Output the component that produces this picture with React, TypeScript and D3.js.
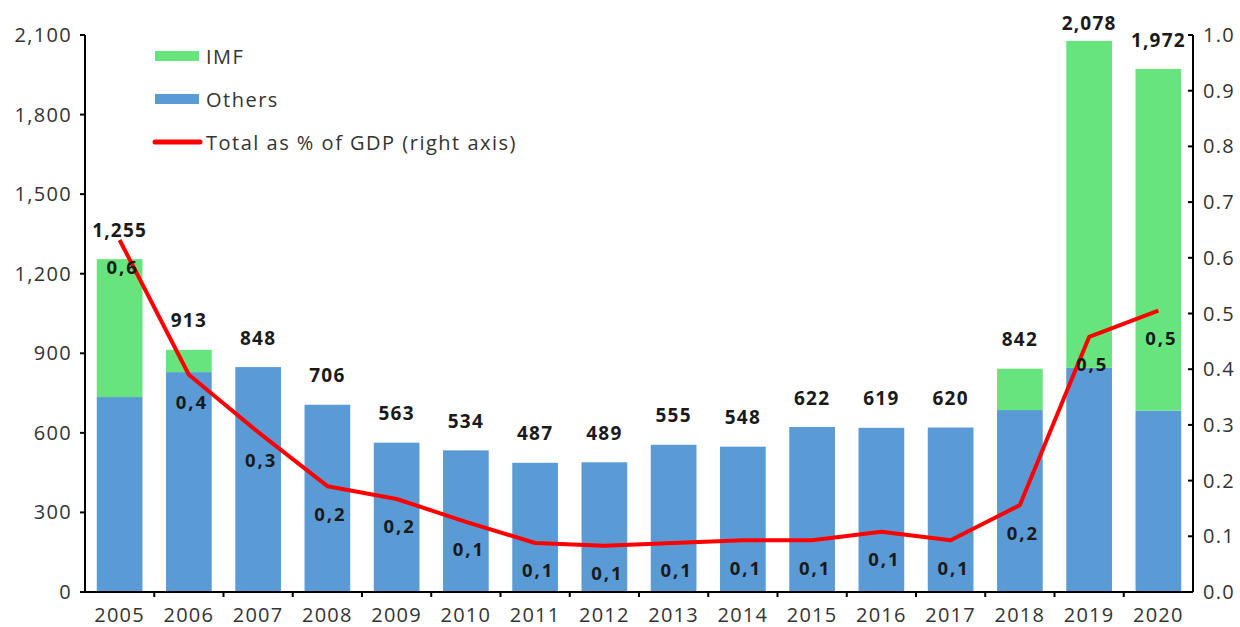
import React from "react";
import * as d3 from "d3";

const years = ["2005","2006","2007","2008","2009","2010","2011","2012","2013","2014","2015","2016","2017","2018","2019","2020"];
const others = [735, 829, 848, 706, 563, 534, 487, 489, 555, 548, 622, 619, 620, 686, 845, 684];
const imf = [520, 84, 0, 0, 0, 0, 0, 0, 0, 0, 0, 0, 0, 156, 1233, 1288];
const pctGdp = [0.632, 0.39, 0.287, 0.19, 0.167, 0.126, 0.088, 0.083, 0.088, 0.093, 0.093, 0.108, 0.093, 0.156, 0.458, 0.505];
const leftTicks = [0, 300, 600, 900, 1200, 1500, 1800, 2100];
const rightTicks = [0, 0.1, 0.2, 0.3, 0.4, 0.5, 0.6, 0.7, 0.8, 0.9, 1.0];
const legendItems = ["IMF", "Others", "Total as % of GDP (right axis)"];

const W = 1240, H = 627;
const X0 = 85, X1 = 1193, Y0 = 592, Y1 = 35;
const BLUE = "#5B9BD5", GREEN = "#68E47E", RED = "#FF0000";
const FONT = "'Open Sans', sans-serif";

export default function App() {
  const x = d3.scaleBand<string>().domain(years).range([X0, X1]).paddingInner(0.34).paddingOuter(0.17);
  const yL = d3.scaleLinear().domain([0, 2100]).range([Y0, Y1]);
  const yR = d3.scaleLinear().domain([0, 1]).range([Y0, Y1]);
  const fmtTot = d3.format(",");
  const fmtPct = (v: number) => d3.format(".1f")(v).replace(".", ",");
  const line = d3.line<number>().x((_, i) => x(years[i])! + x.bandwidth() / 2).y((d) => yR(d));
  const step = x.step();

  return (
    <svg width={W} height={H} style={{ position: "absolute", left: 0, top: 0, background: "#fff" }} fontFamily={FONT}>
      {/* bars */}
      {years.map((yr, i) => {
        const bx = x(yr)!;
        const bw = x.bandwidth();
        return (
          <g key={yr}>
            <rect x={bx} width={bw} y={yL(others[i])} height={Y0 - yL(others[i])} fill={BLUE} />
            {imf[i] > 0 && (
              <rect x={bx} width={bw} y={yL(others[i] + imf[i])} height={yL(others[i]) - yL(others[i] + imf[i])} fill={GREEN} />
            )}
          </g>
        );
      })}
      {/* line */}
      <path d={line(pctGdp)!} fill="none" stroke={RED} strokeWidth={4} strokeLinejoin="round" />
      {/* total labels */}
      {years.map((yr, i) => {
        const tot = others[i] + imf[i];
        const cy = Math.max(yL(tot) - 29, 23);
        return (
          <text key={"t" + yr} x={x(yr)! + x.bandwidth() / 2} y={cy} dy="0.35em" textAnchor="middle"
            fontSize={19} fontWeight={700} fill="#1a1a1a" letterSpacing={1.2}>
            {fmtTot(tot)}
          </text>
        );
      })}
      {/* pct labels */}
      {years.map((yr, i) => (
        <text key={"p" + yr} x={x(yr)! + x.bandwidth() / 2 + 3} y={yR(pctGdp[i]) + 28} dy="0.35em" textAnchor="middle"
          fontSize={18.5} fontWeight={700} fill="#1a1a1a" letterSpacing={2}>
          {fmtPct(pctGdp[i])}
        </text>
      ))}
      {/* left axis */}
      <line x1={X0} x2={X0} y1={Y1} y2={Y0} stroke="#000" strokeWidth={2} />
      {leftTicks.map((t) => (
        <g key={"l" + t}>
          <line x1={X0 - 5} x2={X0} y1={yL(t)} y2={yL(t)} stroke="#000" strokeWidth={2} />
          <text x={72} y={yL(t)} dy="0.35em" textAnchor="end" fontSize={20} fill="#333" letterSpacing={1.3}>
            {fmtTot(t)}
          </text>
        </g>
      ))}
      {/* right axis */}
      <line x1={X1} x2={X1} y1={Y1} y2={Y0} stroke="#000" strokeWidth={2} />
      {rightTicks.map((t) => (
        <g key={"r" + t}>
          <line x1={X1 - 5} x2={X1} y1={yR(t)} y2={yR(t)} stroke="#000" strokeWidth={2} />
          <text x={1203} y={yR(t)} dy="0.35em" textAnchor="start" fontSize={20} fill="#333" letterSpacing={1.3}>
            {d3.format(".1f")(t)}
          </text>
        </g>
      ))}
      {/* bottom axis */}
      <line x1={X0} x2={X1} y1={Y0} y2={Y0} stroke="#000" strokeWidth={2} />
      {years.map((yr, i) => (
        <g key={"b" + yr}>
          {i > 0 && <line x1={x(yr)! - (step - x.bandwidth()) / 2} x2={x(yr)! - (step - x.bandwidth()) / 2} y1={Y0} y2={Y0 + 5} stroke="#000" strokeWidth={2} />}
          <text x={x(yr)! + x.bandwidth() / 2} y={615} dy="0.35em" textAnchor="middle" fontSize={20} fill="#333" letterSpacing={1.3}>
            {yr}
          </text>
        </g>
      ))}
      {/* legend */}
      <rect x={155} y={51} width={44} height={10} fill={GREEN} />
      <rect x={155} y={94} width={44} height={10} fill={BLUE} />
      <line x1={155} x2={200} y1={142} y2={142} stroke={RED} strokeWidth={5} strokeLinecap="round" />
      {legendItems.map((s, i) => (
        <text key={s} x={206} y={57 + i * 43} dy="0.35em" fontSize={20} fill="#333" letterSpacing={1.5}>{s}</text>
      ))}
    </svg>
  );
}
